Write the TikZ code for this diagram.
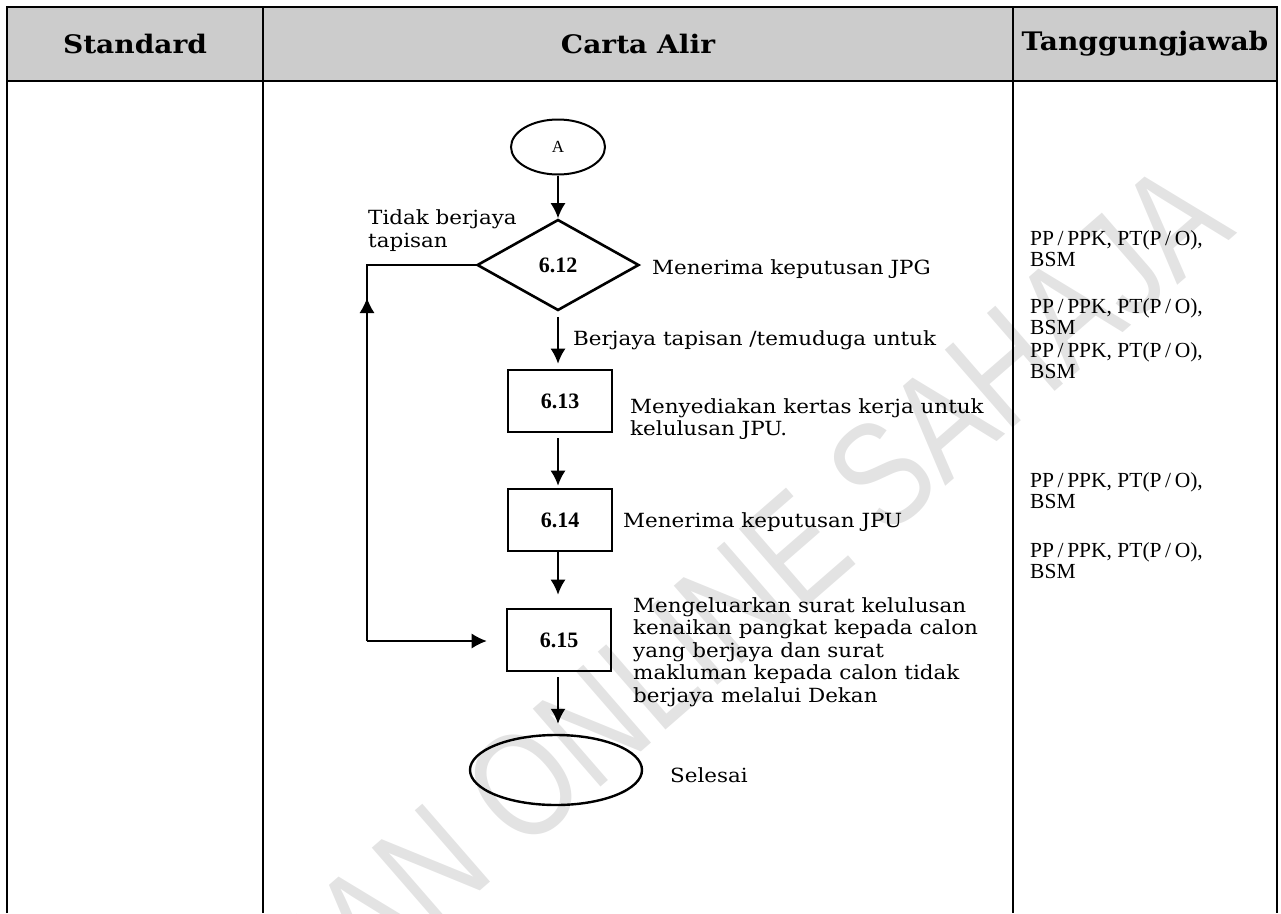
\documentclass[tikz,border=0pt]{standalone}
\usepackage{fontspec}
\setmainfont{DejaVu Serif}[FakeStretch=1.1]
\newfontfamily\tmsfont{Liberation Serif}
\newfontfamily\wmfont{Liberation Sans}[FakeStretch=0.8]
\usetikzlibrary{shapes.geometric,arrows.meta}
\tikzset{>={Latex[length=15pt,width=15pt]}}
\definecolor{hdrgray}{gray}{0.8}
\definecolor{wmgray}{gray}{0.89}
\newcommand{\slsh}{\,/\,}

\begin{document}
\begin{tikzpicture}[x=1pt, y=-1pt,
    tbl/.style={line width=2.6pt},
    hdr/.style={font=\fontsize{25.5}{30}\selectfont\bfseries},
    txt/.style={anchor=base west, inner sep=0, align=left, font=\fontsize{19.5}{22.5}\selectfont},
    resp/.style={anchor=base west, inner sep=0, align=left, font=\tmsfont\fontsize{21.5}{21.5}\selectfont},
    stepbox/.style={draw, line width=2.6pt, minimum width=104pt, minimum height=62pt, inner sep=0, font=\tmsfont\bfseries\fontsize{22}{22}\selectfont},
    flow/.style={->, line width=1.8pt}]
    \useasboundingbox (0,0) rectangle (1281,913);
    % watermark
    \node[rotate=41, text=wmgray, font=\wmfont\fontsize{150}{150}\selectfont] (wm) at (640,684) {SALINAN ONLINE SAHAJA};
    % table
    \fill[hdrgray] (7,7) rectangle (1277,81);
    \draw[tbl] (7,913) -- (7,7) -- (1277,7) -- (1277,913);
    \draw[tbl] (7,81) -- (1277,81);
    \draw[tbl] (263,7) -- (263,913);
    \draw[tbl] (1013,7) -- (1013,913);
    \node[hdr] (hStd) at (135,44) {Standard};
    \node[hdr] (hFlow) at (638,44) {Carta Alir};
    \node[hdr] (hResp) at (1145,44) {Tanggungjawab};
    % flow chart
    \node[ellipse, draw, line width=2pt, minimum width=94pt, minimum height=55pt, inner sep=0, font=\tmsfont\fontsize{17}{17}\selectfont] (startA) at (558,147) {A};
    \node[diamond, draw, line width=2.6pt, minimum width=162pt, minimum height=91pt, aspect=1.78, inner sep=0, font=\tmsfont\bfseries\fontsize{22}{22}\selectfont] (d612) at (558,265) {6.12};
    \node[stepbox] (b613) at (560,401) {6.13};
    \node[stepbox] (b614) at (560,520) {6.14};
    \node[stepbox] (b615) at (559,640) {6.15};
    \node[ellipse, draw, line width=2.4pt, minimum width=172pt, minimum height=70pt] (endS) at (556,770) {};
    \draw[flow] (startA.south) -- (d612.north);
    \draw[flow, shorten <=5pt, shorten >=5pt] (d612.south) -- (d612.south |- b613.north);
    \draw[flow, shorten <=5pt, shorten >=2pt] (b613.south -| d612.south) -- (d612.south |- b614.north);
    \draw[flow, shorten >=13pt] (b614.south -| d612.south) -- (d612.south |- b615.north);
    \draw[flow, shorten <=5pt, shorten >=10pt] (b615.south -| d612.south) -- (d612.south |- endS.north);
    % loop back
    \coordinate (lpTop) at (367,265);
    \coordinate (lpBot) at (367,641);
    \coordinate (lpArr) at (367,298);
    \draw[line width=1.3pt] (d612.west) -- (lpTop) -- (lpBot);
    \draw[->, line width=1.3pt, shorten >=19pt] (lpBot) -- (b615.west |- lpBot);
    \draw[->, line width=1.3pt] (lpBot) -- (lpArr);
    % labels (base = last line)
    \node[txt] (tNo) at (368,247) {Tidak berjaya\\tapisan};
    \node[txt] (t612) at (652,274) {Menerima keputusan JPG};
    \node[txt] (tYes) at (573,345) {Berjaya tapisan /temuduga untuk};
    \node[txt] (t613) at (630,435.5) {Menyediakan kertas kerja untuk\\kelulusan JPU.};
    \node[txt] (t614) at (623,527) {Menerima keputusan JPU};
    \node[txt] (t615) at (633,702) {Mengeluarkan surat kelulusan\\kenaikan pangkat kepada calon\\yang berjaya dan surat\\makluman kepada calon tidak\\berjaya melalui Dekan};
    \node[txt] (tEnd) at (670,782) {Selesai};
    % responsibility
    \node[resp] (r612) at (1030,266.5) {PP\slsh PPK, PT(P\slsh O),\\BSM};
    \node[resp] (r613a) at (1030,334.5) {PP\slsh PPK, PT(P\slsh O),\\BSM};
    \node[resp] (r613b) at (1030,378.5) {PP\slsh PPK, PT(P\slsh O),\\BSM};
    \node[resp] (r614) at (1030,508.5) {PP\slsh PPK, PT(P\slsh O),\\BSM};
    \node[resp] (r615) at (1030,578.5) {PP\slsh PPK, PT(P\slsh O),\\BSM};
\end{tikzpicture}
\end{document}
